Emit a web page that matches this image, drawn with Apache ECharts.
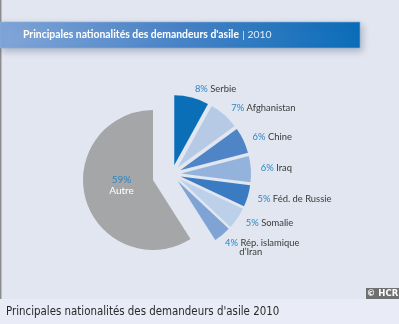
<!DOCTYPE html>
<html>
<head>
<meta charset="utf-8">
<script src="https://cdn.jsdelivr.net/npm/echarts@6/dist/echarts.min.js"></script>
<style>
  html, body { margin: 0; padding: 0; background: #e1e6f0; }
  #chart { width: 399px; height: 324px; }
</style>
</head>
<body>
<div id="chart"></div>
<script>
// Principales nationalités des demandeurs d'asile, 2010 (parts en %)
const categories = ['Serbie', 'Afghanistan', 'Chine', 'Iraq', 'Féd. de Russie', 'Somalie', 'Rép. islamique|d\u2019Iran'];
const shares = [8, 7, 6, 6, 5, 5, 4];
const sliceColors = ['#0b6fb8', '#b6cae6', '#4f85c6', '#93b3dc', '#3a7bc2', '#bcd0ea', '#7ea3d4'];
const otherLabel = 'Autre';
const otherShare = 59;
const titleText = 'Principales nationalités des demandeurs d\'asile';
const titleYear = '2010';
const captionText = 'Principales nationalités des demandeurs d\'asile 2010';
const creditText = '© HCR';

const listedTotal = shares.reduce((a, b) => a + b, 0);
const FONT = 'Lato, "Open Sans", sans-serif';

// label lines are separated by '|' in the category names; continuation lines are indented
function sliceLabel(params) {
  const lines = params.name.split('|');
  return lines.map((l, i) => i === 0
    ? '{p|' + params.value + '%} {n|' + l + '}'
    : '{n|\u2002\u2002\u2002' + l + '}').join('\n');
}

const smallData = categories.map((c, i) => ({
  name: c,
  value: shares[i],
  selected: true,
  itemStyle: { color: sliceColors[i] }
}));
smallData.push({
  name: otherLabel,
  value: otherShare,
  itemStyle: { color: 'transparent' },
  label: { show: false }
});

const chart = echarts.init(document.getElementById('chart'), null, { renderer: 'canvas' });
chart.setOption({
  backgroundColor: '#e1e6f0',
  animation: false,
  graphic: [
    { type: 'rect', z: 0, shape: { x: 0, y: 299, width: 399, height: 25 }, style: { fill: '#e9ecf6' } },
    { type: 'rect', z: 0, shape: { x: 0, y: 0, width: 1.5, height: 299 }, style: { fill: '#8d8d8d' } },
    {
      type: 'rect', z: 1,
      shape: { x: 0, y: 22, width: 360, height: 26 },
      style: {
        fill: new echarts.graphic.LinearGradient(0, 0, 1, 0, [
          { offset: 0, color: '#82a6d8' },
          { offset: 0.5, color: '#4883c7' },
          { offset: 1, color: '#0b6db8' }
        ]),
        stroke: '#8ab4e0', lineWidth: 0.6,
        shadowBlur: 7, shadowOffsetX: 2, shadowOffsetY: 3, shadowColor: 'rgba(40,50,80,0.28)'
      }
    },
    {
      type: 'text', z: 2, x: 23, y: 35,
      style: {
        text: '{b|' + titleText + '} {s|| ' + titleYear + '}',
        verticalAlign: 'middle',
        rich: {
          b: { fill: '#ffffff', fontFamily: FONT, fontWeight: 'bold', fontSize: 10.4 },
          s: { fill: '#e6eef8', fontFamily: FONT, fontSize: 10.4 }
        }
      }
    },
    { type: 'rect', z: 1, shape: { x: 366, y: 288, width: 33, height: 11 }, style: { fill: '#707070' } },
    {
      type: 'text', z: 2, x: 382.5, y: 293.8,
      style: { text: creditText, fill: '#ffffff', fontFamily: 'DejaVu Sans', fontWeight: 'bold', fontSize: 8.5, align: 'center', verticalAlign: 'middle' }
    },
    {
      type: 'text', z: 2, x: 6, y: 312,
      style: { text: captionText, fill: '#2a2a2a', fontFamily: '"DejaVu Sans Condensed", "DejaVu Sans"', fontSize: 11.4, verticalAlign: 'middle' }
    }
  ],
  series: [
    {
      type: 'pie',
      center: [172, 174],
      radius: 70,
      startAngle: 90,
      clockwise: true,
      selectedMode: 'multiple',
      selectedOffset: 9,
      silent: true,
      avoidLabelOverlap: false,
      data: smallData,
      label: {
        show: true,
        position: 'outside',
        distanceToLabelLine: 1,
        fontFamily: FONT,
        fontSize: 9.4,
        formatter: sliceLabel,
        rich: {
          p: { color: '#2b86c4' },
          n: { color: '#3a3a3a' }
        }
      },
      // multi-line labels hang below their anchor point
      labelLayout: function (params) {
        const c = categories[params.dataIndex];
        if (c && c.indexOf('|') >= 0) return { dx: -4, dy: 6 };
        return {};
      },
      labelLine: { show: false, length: 9, length2: 0 }
    },
    {
      type: 'pie',
      center: [153, 180],
      radius: 70,
      startAngle: 90,
      clockwise: true,
      silent: true,
      avoidLabelOverlap: false,
      data: [
        { name: 'listes', value: listedTotal, itemStyle: { color: 'transparent' }, label: { show: false } },
        {
          name: otherLabel, value: otherShare,
          itemStyle: { color: '#a5a6a8' },
          label: {
            show: true, position: 'inside', offset: [5, -5],
            fontFamily: FONT, fontSize: 10, lineHeight: 11,
            formatter: '{p|' + otherShare + '%}\n{w|' + otherLabel + '}',
            rich: {
              p: { color: '#2b86c4', align: 'center' },
              w: { color: '#ffffff', align: 'center' }
            }
          }
        }
      ],
      labelLine: { show: false }
    }
  ]
});
</script>
</body>
</html>
